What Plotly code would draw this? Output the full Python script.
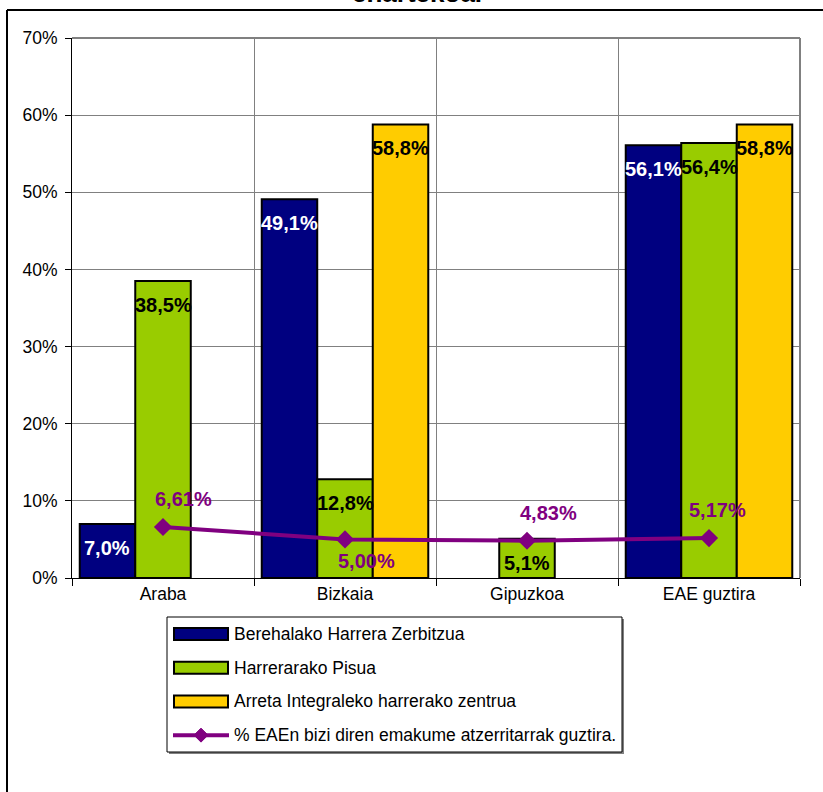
import plotly.graph_objects as go

categories = ["Araba", "Bizkaia", "Gipuzkoa", "EAE guztira"]
series_names = [
    "Berehalako Harrera Zerbitzua",
    "Harrerarako Pisua",
    "Arreta Integraleko harrerako zentrua",
]
berehalako = [7.0, 49.1, None, 56.1]
pisua = [38.5, 12.8, 5.1, 56.4]
arreta = [None, 58.8, None, 58.8]
line_name = "% EAEn bizi diren emakume atzerritarrak guztira."
emakume = [6.61, 5.00, 4.83, 5.17]
y_ticks = [0, 10, 20, 30, 40, 50, 60, 70]
y_tick_labels = ["0%", "10%", "20%", "30%", "40%", "50%", "60%", "70%"]
title_fragment = "enartekoa."

# styles
bar_colors = ["#000080", "#99CC00", "#FFCC00"]
label_colors = ["white", "black", "black"]
line_color = "#800080"
FONT = "Arial, Liberation Sans, sans-serif"
AX_SIZE = 17.5
LBL_SIZE = 20
bargap = 0.085
line_label_pos = ["above", "below", "above", "above"]
line_label_xshift = [20, 21, 21, 8]

W, H = 823, 792
L, R, T, B = 72, 23, 38, 214
pw, ph = W - L - R, H - T - B


def px_x(px):
    return (px - L) / pw


def px_y(py):
    return (H - B - py) / ph


xs = list(range(len(categories)))
fig = go.Figure()
series = [berehalako, pisua, arreta]
for name, vals, col in zip(series_names, series, bar_colors):
    fig.add_trace(go.Bar(
        x=xs, y=vals, name=name, showlegend=False,
        marker=dict(color=col, line=dict(color="black", width=2)),
    ))
fig.add_trace(go.Scatter(
    x=xs, y=emakume, name=line_name, showlegend=False, mode="lines+markers",
    line=dict(color=line_color, width=4),
    marker=dict(symbol="diamond", size=14, color=line_color),
))

annotations = []
bw = (1 - bargap) / 3
for j, vals in enumerate(series):
    off = (j - 1) * bw
    for i, v in enumerate(vals):
        if v is None:
            continue
        annotations.append(dict(
            x=i + off, y=v, xref="x", yref="y", showarrow=False,
            text=f"{v:.1f}".replace(".", ",") + "%", yshift=-24,
            font=dict(family=FONT, size=LBL_SIZE, color=label_colors[j], weight="bold"),
        ))
for i, v in enumerate(emakume):
    annotations.append(dict(
        x=i, y=v, xref="x", yref="y", showarrow=False,
        text=f"{v:.2f}".replace(".", ",") + "%",
        yshift=28 if line_label_pos[i] == "above" else -22,
        xshift=line_label_xshift[i],
        font=dict(family=FONT, size=LBL_SIZE, color=line_color, weight="bold"),
    ))
annotations.append(dict(
    x=px_x(417), xref="paper", y=px_y(10), yref="paper", yanchor="bottom",
    showarrow=False, text=title_fragment,
    font=dict(family=FONT, size=26, color="black", weight="bold"),
))

shapes = [
    dict(type="line", xref="paper", yref="paper", x0=0, x1=1, y0=1, y1=1,
         line=dict(color="#808080", width=2), layer="above"),
    dict(type="line", xref="paper", yref="paper", x0=1, x1=1, y0=0, y1=1,
         line=dict(color="#808080", width=2), layer="above"),
    dict(type="line", xref="paper", yref="paper", x0=px_x(7), x1=px_x(830),
         y0=px_y(10), y1=px_y(10), line=dict(color="black", width=2)),
    dict(type="line", xref="paper", yref="paper", x0=px_x(7), x1=px_x(7),
         y0=px_y(10), y1=px_y(800), line=dict(color="black", width=2)),
]

# legend drawn as a key box
LX0, LX1, LY0, LY1 = 167, 622, 617, 752
shapes.append(dict(type="rect", xref="paper", yref="paper",
                   x0=px_x(LX0 + 2), x1=px_x(LX1 + 2), y0=px_y(LY0 + 2), y1=px_y(LY1 + 2),
                   fillcolor="#808080", line=dict(width=0)))
shapes.append(dict(type="rect", xref="paper", yref="paper",
                   x0=px_x(LX0), x1=px_x(LX1), y0=px_y(LY0), y1=px_y(LY1),
                   fillcolor="white", line=dict(color="black", width=1)))
row_h = (LY1 - LY0) / 4
legend_entries = list(zip(series_names, bar_colors)) + [(line_name, line_color)]
for k, (name, col) in enumerate(legend_entries):
    cy = LY0 + row_h * (k + 0.5)
    if k < 3:
        shapes.append(dict(type="rect", xref="paper", yref="paper",
                           x0=px_x(174), x1=px_x(228), y0=px_y(cy - 6), y1=px_y(cy + 6),
                           fillcolor=col, line=dict(color="black", width=2)))
    else:
        shapes.append(dict(type="line", xref="paper", yref="paper",
                           x0=px_x(173), x1=px_x(229), y0=px_y(cy), y1=px_y(cy),
                           line=dict(color=col, width=4)))
        shapes.append(dict(type="path", xref="paper", yref="paper",
                           path=(f"M{px_x(201)},{px_y(cy - 7)} L{px_x(208)},{px_y(cy)} "
                                 f"L{px_x(201)},{px_y(cy + 7)} L{px_x(194)},{px_y(cy)} Z"),
                           fillcolor=col, line=dict(color=col, width=1)))
    annotations.append(dict(
        x=px_x(232), y=px_y(cy), xref="paper", yref="paper", xanchor="left",
        yanchor="middle", showarrow=False, text=name,
        font=dict(family=FONT, size=AX_SIZE, color="black"),
    ))

fig.update_layout(
    width=W, height=H, margin=dict(l=L, r=R, t=T, b=B),
    paper_bgcolor="white", plot_bgcolor="white",
    barmode="group", bargap=bargap, bargroupgap=0,
    font=dict(family=FONT, size=AX_SIZE, color="black"),
    annotations=annotations, shapes=shapes,
    showlegend=False,
    xaxis=dict(
        range=[-0.5, 3.5], tickvals=xs, ticktext=categories, ticks="",
        showgrid=False, showline=True, linecolor="black", linewidth=1,
        zeroline=False, fixedrange=True,
        tickfont=dict(family=FONT, size=AX_SIZE, color="black"),
        minor=dict(tickmode="array", tickvals=[-0.5, 0.5, 1.5, 2.5, 3.5],
                   ticks="outside", ticklen=7, tickcolor="black",
                   showgrid=True, gridcolor="#808080", gridwidth=1),
    ),
    yaxis=dict(
        range=[0, 70], tickmode="array", tickvals=y_ticks, ticktext=y_tick_labels,
        ticks="outside", ticklen=6, tickcolor="black",
        showgrid=True, gridcolor="#808080", gridwidth=1,
        showline=True, linecolor="black", linewidth=1, zeroline=False,
        tickfont=dict(family=FONT, size=AX_SIZE, color="black"),
        ticklabelstandoff=4, fixedrange=True,
    ),
)

fig.write_html("out.html", config={"displayModeBar": False},
               post_script="document.body.style.margin='0';")
